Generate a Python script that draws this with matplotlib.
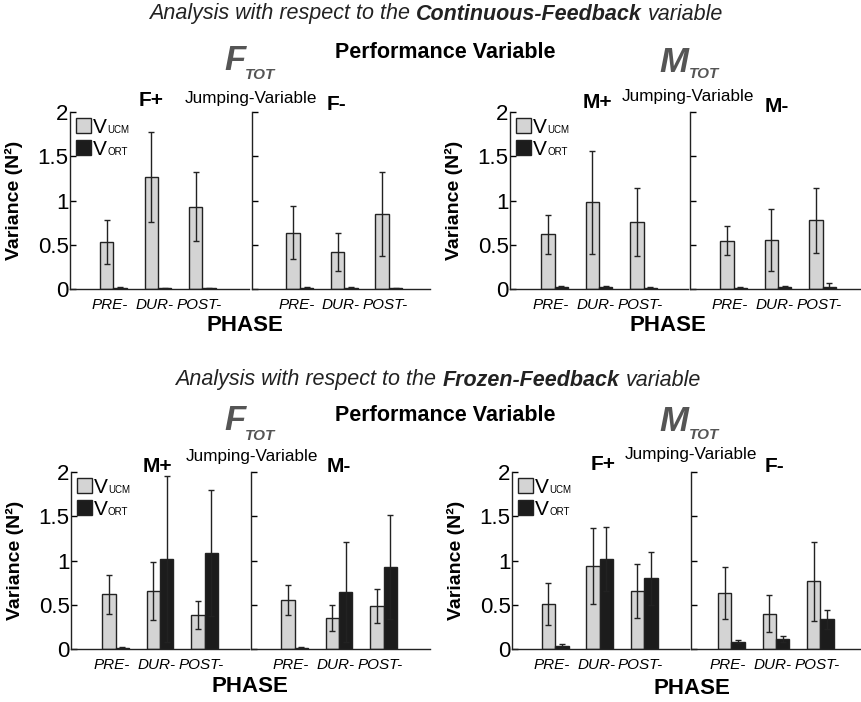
import numpy as np
import matplotlib.pyplot as plt
from matplotlib.patches import Rectangle

plt.rcParams['font.family'] = ['Liberation Sans', 'DejaVu Sans']

W, H = 861, 702
phases = ['PRE-', 'DUR-', 'POST-']

# Continuous-Feedback, F_TOT (jumping F+ / F-)
cf_ftot_fp_ucm = [0.53, 1.27, 0.93]
cf_ftot_fp_ucm_err = [0.25, 0.51, 0.39]
cf_ftot_fp_ort = [0.02, 0.01, 0.01]
cf_ftot_fp_ort_err = [0.01, 0.005, 0.005]
cf_ftot_fm_ucm = [0.64, 0.42, 0.85]
cf_ftot_fm_ucm_err = [0.30, 0.21, 0.47]
cf_ftot_fm_ort = [0.02, 0.02, 0.01]
cf_ftot_fm_ort_err = [0.01, 0.01, 0.005]

# Continuous-Feedback, M_TOT (jumping M+ / M-)
cf_mtot_mp_ucm = [0.62, 0.98, 0.76]
cf_mtot_mp_ucm_err = [0.22, 0.585, 0.385]
cf_mtot_mp_ort = [0.03, 0.03, 0.02]
cf_mtot_mp_ort_err = [0.01, 0.01, 0.005]
cf_mtot_mm_ucm = [0.55, 0.555, 0.78]
cf_mtot_mm_ucm_err = [0.16, 0.35, 0.365]
cf_mtot_mm_ort = [0.02, 0.03, 0.03]
cf_mtot_mm_ort_err = [0.005, 0.01, 0.045]

# Frozen-Feedback, F_TOT (jumping M+ / M-)
ff_ftot_mp_ucm = [0.62, 0.66, 0.39]
ff_ftot_mp_ucm_err = [0.22, 0.325, 0.16]
ff_ftot_mp_ort = [0.02, 1.015, 1.09]
ff_ftot_mp_ort_err = [0.005, 0.935, 0.71]
ff_ftot_mm_ucm = [0.56, 0.355, 0.485]
ff_ftot_mm_ucm_err = [0.17, 0.15, 0.19]
ff_ftot_mm_ort = [0.02, 0.645, 0.93]
ff_ftot_mm_ort_err = [0.01, 0.565, 0.59]

# Frozen-Feedback, M_TOT (jumping F+ / F-)
ff_mtot_fp_ucm = [0.51, 0.94, 0.66]
ff_mtot_fp_ucm_err = [0.24, 0.43, 0.305]
ff_mtot_fp_ort = [0.04, 1.02, 0.80]
ff_mtot_fp_ort_err = [0.02, 0.365, 0.30]
ff_mtot_fm_ucm = [0.635, 0.40, 0.765]
ff_mtot_fm_ucm_err = [0.29, 0.207, 0.443]
ff_mtot_fm_ort = [0.086, 0.113, 0.338]
ff_mtot_fm_ort_err = [0.02, 0.035, 0.11]

gray = '#d4d4d4'
dark = '#1c1c1c'
edge = '#222222'
bw = 0.30
unit_px = 44.5

fig = plt.figure(figsize=(W / 100, H / 100), dpi=100)


def fx(x):
    return x / W


def fy(y):
    return 1 - y / H


def add_panel(left, top, width, offset, ucm, ucm_err, ort, ort_err, first):
    height = 177.3
    ax = fig.add_axes([fx(left), fy(top + height), width / W, height / H])
    x = np.arange(1, len(phases) + 1)
    ax.bar(x - bw / 2, ucm, bw, color=gray, edgecolor=edge, linewidth=1.0, zorder=2)
    ax.bar(x + bw / 2, ort, bw, color=dark, edgecolor=edge, linewidth=1.0, zorder=2)
    ax.errorbar(x - bw / 2, ucm, yerr=ucm_err, fmt='none', ecolor=edge,
                elinewidth=1.0, capsize=2.2, capthick=1.0, zorder=3)
    ax.errorbar(x + bw / 2, ort, yerr=ort_err, fmt='none', ecolor=edge,
                elinewidth=1.0, capsize=2.2, capthick=1.0, zorder=3)
    x0 = 1 - offset
    ax.set_xlim(x0, x0 + width / unit_px)
    ax.set_ylim(0, 2)
    for s in ['top', 'right']:
        ax.spines[s].set_visible(False)
    for s in ['left', 'bottom']:
        ax.spines[s].set_linewidth(1.0)
        ax.spines[s].set_color(edge)
    ax.set_yticks([0, 0.5, 1, 1.5, 2])
    ax.set_yticklabels(['0', '0.5', '1', '1.5', '2'])
    ax.tick_params(axis='y', direction='in', length=4, width=1.0,
                   labelsize=16, pad=1, labelleft=first)
    ax.set_xticks(x - 0.08)
    ax.set_xticklabels(phases, fontsize=11, style='italic')
    ax.tick_params(axis='x', length=0, pad=6)
    if first:
        ax.set_ylabel('Variance (N²)', fontsize=14, fontweight='bold')
        ax.yaxis.set_label_coords(-0.265, 0.5)
        add_key(ax, width, height)
    return ax


def add_key(ax, width, height):
    # hand-built legend: shaded squares with V + small subscript
    sq = 15
    for i, (fc, sub) in enumerate([(gray, 'UCM'), (dark, 'ORT')]):
        top = 6 + i * 22
        ax.add_patch(Rectangle((6 / width, 1 - (top + sq) / height), sq / width, sq / height,
                               transform=ax.transAxes, facecolor=fc, edgecolor=edge,
                               linewidth=1.0, clip_on=False))
        base = 1 - (top + sq) / height
        ax.text(23 / width, base, 'V', transform=ax.transAxes, fontsize=15,
                va='baseline', ha='left')
        ax.text(37 / width, base, sub, transform=ax.transAxes, fontsize=7,
                va='baseline', ha='left')


def mixed_line(y, parts, xc, size):
    r = fig.canvas.get_renderer()
    gap = 0.28 * size * 100 / 72
    texts = []
    for s, weight in parts:
        t = fig.text(0, fy(y), s, fontsize=size, style='italic', fontweight=weight,
                     va='center', ha='left', color='#222222')
        texts.append(t)
    widths = [t.get_window_extent(renderer=r).width for t in texts]
    x = xc - (sum(widths) + gap * (len(texts) - 1)) / 2
    for t, w in zip(texts, widths):
        t.set_x(fx(x))
        x += w + gap


def total_label(x, y, letter, xs, ys):
    fig.text(fx(x), fy(y), letter, fontsize=25, style='italic', fontweight='bold',
             color='#555555', va='baseline', ha='left')
    fig.text(fx(xs), fy(ys), 'TOT', fontsize=11, style='italic', fontweight='bold',
             color='#555555', va='baseline', ha='left')


def group_labels(pos_plus, pos_jump, pos_minus, plus, minus):
    fig.text(fx(pos_plus[0]), fy(pos_plus[1]), plus, fontsize=15, fontweight='bold',
             ha='center', va='center')
    fig.text(fx(pos_jump[0]), fy(pos_jump[1]), 'Jumping-Variable', fontsize=12.3,
             ha='center', va='center')
    fig.text(fx(pos_minus[0]), fy(pos_minus[1]), minus, fontsize=15, fontweight='bold',
             ha='center', va='center')


# top row: Continuous-Feedback
add_panel(70, 112, 179, 0.975, cf_ftot_fp_ucm, cf_ftot_fp_ucm_err,
          cf_ftot_fp_ort, cf_ftot_fp_ort_err, True)
add_panel(252, 112, 178, 1.075, cf_ftot_fm_ucm, cf_ftot_fm_ucm_err,
          cf_ftot_fm_ort, cf_ftot_fm_ort_err, False)
add_panel(510, 112, 178, 1.0, cf_mtot_mp_ucm, cf_mtot_mp_ucm_err,
          cf_mtot_mp_ort, cf_mtot_mp_ort_err, True)
add_panel(690, 112, 171, 0.98, cf_mtot_mm_ucm, cf_mtot_mm_ucm_err,
          cf_mtot_mm_ort, cf_mtot_mm_ort_err, False)

# bottom row: Frozen-Feedback
add_panel(71, 472, 178, 1.0, ff_ftot_mp_ucm, ff_ftot_mp_ucm_err,
          ff_ftot_mp_ort, ff_ftot_mp_ort_err, True)
add_panel(251, 472, 179, 0.98, ff_ftot_mm_ucm, ff_ftot_mm_ucm_err,
          ff_ftot_mm_ort, ff_ftot_mm_ort_err, False)
add_panel(512, 472, 177, 0.97, ff_mtot_fp_ucm, ff_mtot_fp_ucm_err,
          ff_mtot_fp_ort, ff_mtot_fp_ort_err, True)
add_panel(691, 472, 170, 0.91, ff_mtot_fm_ucm, ff_mtot_fm_ucm_err,
          ff_mtot_fm_ort, ff_mtot_fm_ort_err, False)

mixed_line(14, [('Analysis with respect to the', 'normal'),
                ('Continuous-Feedback', 'bold'), ('variable', 'normal')], 436, 15.5)
mixed_line(380, [('Analysis with respect to the', 'normal'),
                 ('Frozen-Feedback', 'bold'), ('variable', 'normal')], 438, 15.5)

for y in (53, 415):
    fig.text(fx(445), fy(y), 'Performance Variable', fontsize=15.5, fontweight='bold',
             ha='center', va='center')

total_label(224, 70, 'F', 245, 79)
total_label(659, 72, 'M', 689, 78)
total_label(224, 430, 'F', 245, 440)
total_label(659, 431, 'M', 689, 439)

group_labels((151, 101), (251, 98), (336, 105), 'F+', 'F-')
group_labels((597, 103), (688, 96), (777, 107), 'M+', 'M-')
group_labels((157, 466), (252, 457), (339, 466), 'M+', 'M-')
group_labels((603, 464), (691, 455), (774, 467), 'F+', 'F-')

for x, y in [(245, 325), (668, 325), (250, 686), (692, 688)]:
    fig.text(fx(x), fy(y), 'PHASE', fontsize=16, fontweight='bold',
             ha='center', va='center')

fig.savefig('out.png', dpi=100)
